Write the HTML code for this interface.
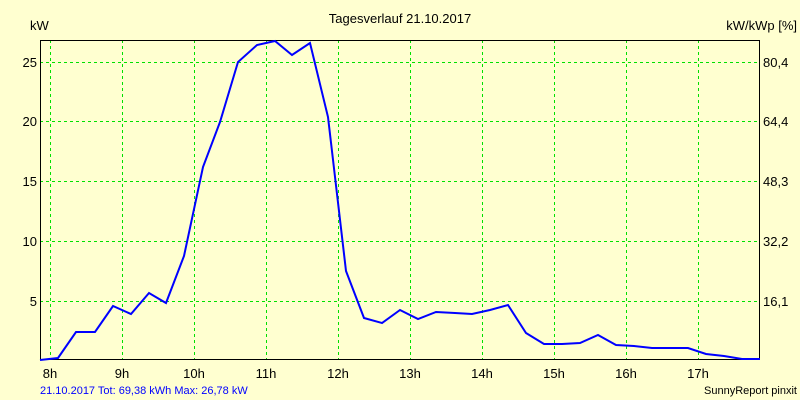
<!DOCTYPE html>
<html><head><meta charset="utf-8"><style>
body{margin:0;background:#ffffd0;}
svg{display:block;font-family:"Liberation Sans",sans-serif;}
</style></head><body>
<svg width="800" height="400" xmlns="http://www.w3.org/2000/svg">
<rect width="800" height="400" fill="#ffffd0"/>
<g stroke="#00e000" stroke-width="1" stroke-dasharray="3,3">
<line x1="50.5" y1="40" x2="50.5" y2="359"/>
<line x1="122.5" y1="40" x2="122.5" y2="359"/>
<line x1="194.5" y1="40" x2="194.5" y2="359"/>
<line x1="266.5" y1="40" x2="266.5" y2="359"/>
<line x1="338.5" y1="40" x2="338.5" y2="359"/>
<line x1="410.5" y1="40" x2="410.5" y2="359"/>
<line x1="482.5" y1="40" x2="482.5" y2="359"/>
<line x1="554.5" y1="40" x2="554.5" y2="359"/>
<line x1="626.5" y1="40" x2="626.5" y2="359"/>
<line x1="698.5" y1="40" x2="698.5" y2="359"/>
<line x1="40" y1="62.5" x2="760" y2="62.5"/>
<line x1="40" y1="121.5" x2="760" y2="121.5"/>
<line x1="40" y1="181.5" x2="760" y2="181.5"/>
<line x1="40" y1="241.5" x2="760" y2="241.5"/>
<line x1="40" y1="301.5" x2="760" y2="301.5"/>
</g>
<rect x="40.5" y="40.5" width="719" height="319" fill="none" stroke="#000" stroke-width="1"/>
<polyline fill="none" stroke="#0000ff" stroke-width="2" points="40,360 58,358 76,332 95,332 113,306 131,314 149,293 166,303 184,256 203,167 220,122 238,62 257,45 275,41 292,55 310,43 328,117 346,271 364,318 382,323 400,310 418,319 436,312 455,313 472,314 490,310 508,305 526,333 544,344 562,344 580,343 598,335 616,345 634,346 652,348 670,348 688,348 706,354 724,356 742,359 760,359"/>
<g font-size="13" fill="#000">
<text x="400" y="23" text-anchor="middle">Tagesverlauf 21.10.2017</text>
<text x="30" y="30">kW</text>
<text x="797" y="30" text-anchor="end">kW/kWp [%]</text>
<g text-anchor="end">
<text x="37" y="67">25</text><text x="37" y="126">20</text><text x="37" y="186">15</text><text x="37" y="246">10</text><text x="37" y="306">5</text>
</g>
<g text-anchor="start">
<text x="763" y="67">80,4</text><text x="763" y="126">64,4</text><text x="763" y="186">48,3</text><text x="763" y="246">32,2</text><text x="763" y="306">16,1</text>
</g>
<g text-anchor="middle">
<text x="50" y="378">8h</text><text x="122" y="378">9h</text><text x="194" y="378">10h</text><text x="266" y="378">11h</text><text x="338" y="378">12h</text><text x="410" y="378">13h</text><text x="482" y="378">14h</text><text x="554" y="378">15h</text><text x="626" y="378">16h</text><text x="698" y="378">17h</text>
</g>
</g>
<text x="40" y="394" font-size="11" fill="#0000ff">21.10.2017 Tot: 69,38 kWh Max: 26,78 kW</text>
<text x="797" y="394" font-size="11" fill="#000" text-anchor="end">SunnyReport pinxit</text>
</svg>
</body></html>
